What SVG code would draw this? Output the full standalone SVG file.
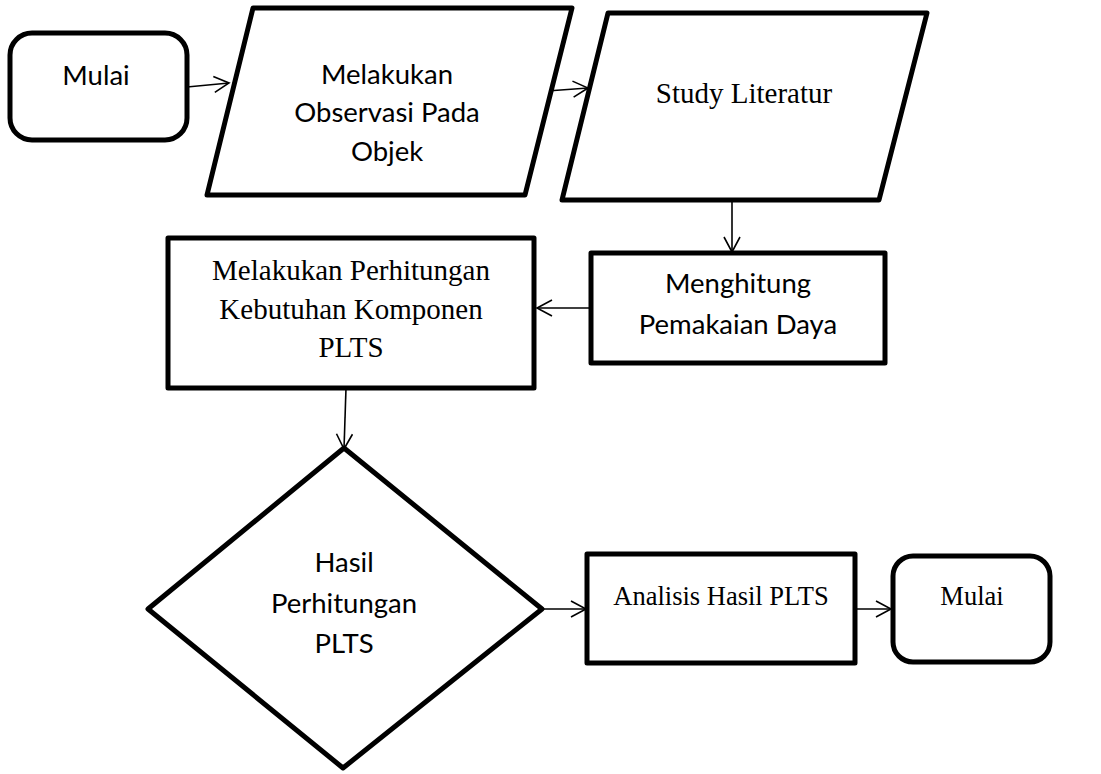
<svg xmlns="http://www.w3.org/2000/svg" width="1101" height="774" viewBox="0 0 1101 774">
<style>
.shape{fill:#fff;stroke:#000;stroke-width:5;stroke-linejoin:round}
.sans{font-family:Lato,"Open Sans","Liberation Sans",sans-serif;font-size:27.5px;fill:#000;text-anchor:middle}
.serif{font-family:"Liberation Serif","Times New Roman",serif;font-size:29px;fill:#000;text-anchor:middle}
.conn{fill:none;stroke:#000;stroke-width:1.6}
</style>
<defs>
<marker id="arr" markerUnits="userSpaceOnUse" markerWidth="20" markerHeight="20" refX="16" refY="9" orient="auto" viewBox="0 0 20 20">
<path d="M1,1 L16,9 L1,17" fill="none" stroke="#000" stroke-width="1.6"/>
</marker>
<clipPath id="clipObs"><rect x="200" y="0" width="400" height="168"/></clipPath>
</defs>
<rect width="1101" height="774" fill="#fff"/>
<g id="connectors">
<line class="conn" x1="187" y1="87" x2="229" y2="83" marker-end="url(#arr)"/>
<line class="conn" x1="547" y1="91" x2="588" y2="88" marker-end="url(#arr)"/>
<line class="conn" x1="732" y1="200" x2="732" y2="252" marker-end="url(#arr)"/>
<line class="conn" x1="591" y1="308" x2="537" y2="308" marker-end="url(#arr)"/>
<line class="conn" x1="346" y1="388" x2="344" y2="449" marker-end="url(#arr)"/>
<line class="conn" x1="542" y1="609" x2="586" y2="609" marker-end="url(#arr)"/>
<line class="conn" x1="855" y1="609" x2="891" y2="609" marker-end="url(#arr)"/>
</g>
<g id="start">
<rect class="shape" x="10" y="33" width="177" height="107" rx="22" ry="22"/>
<text class="sans" x="96" y="85">Mulai</text>
</g>
<g id="observasi">
<polygon class="shape" points="253,8 572,8 525,195 207,195"/>
<g clip-path="url(#clipObs)">
<text class="sans" x="387" y="84">Melakukan</text>
<text class="sans" x="387" y="122">Observasi Pada</text>
<text class="sans" x="387" y="161">Objek</text>
</g>
</g>
<g id="study">
<polygon class="shape" points="608,13 927,13 879,200 562,200"/>
<text class="serif" x="744" y="103">Study Literatur</text>
</g>
<g id="menghitung">
<rect class="shape" x="591" y="253" width="294" height="110"/>
<text class="sans" x="738" y="293">Menghitung</text>
<text class="sans" x="738" y="334">Pemakaian Daya</text>
</g>
<g id="perhitungan">
<rect class="shape" x="168" y="238" width="366" height="150"/>
<text class="serif" x="351" y="280">Melakukan Perhitungan</text>
<text class="serif" x="351" y="319">Kebutuhan Komponen</text>
<text class="serif" x="351" y="357">PLTS</text>
</g>
<g id="hasil">
<polygon class="shape" points="344,448 542,609 343,768 148,609"/>
<text class="sans" x="344" y="572">Hasil</text>
<text class="sans" x="344" y="613">Perhitungan</text>
<text class="sans" x="344" y="653">PLTS</text>
</g>
<g id="analisis">
<rect class="shape" x="587" y="554" width="268" height="109"/>
<text class="serif" x="721" y="605" style="font-size:26.5px">Analisis Hasil PLTS</text>
</g>
<g id="end">
<rect class="shape" x="893" y="556" width="157" height="106" rx="20" ry="20"/>
<text class="serif" x="972" y="605" style="font-size:26.5px">Mulai</text>
</g>
</svg>
